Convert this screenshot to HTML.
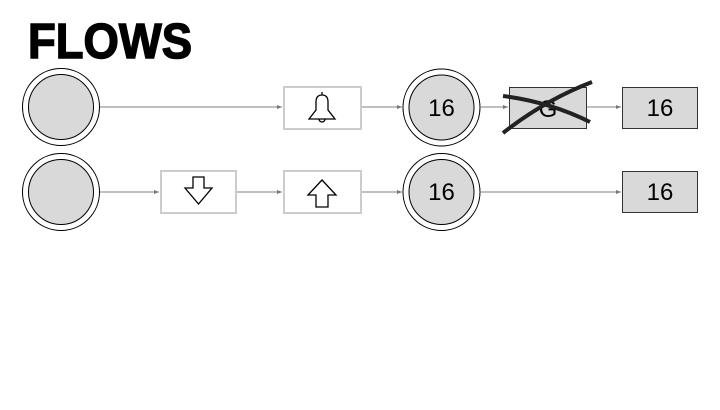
<!DOCTYPE html>
<html><head><style>body{margin:0;background:#fff;width:720px;height:405px;overflow:hidden}</style></head><body>
<svg width="720" height="405" viewBox="0 0 720 405" xmlns="http://www.w3.org/2000/svg">
<defs><marker id="a" markerWidth="6" markerHeight="6" refX="5" refY="3" orient="auto"><path d="M0,1 L5,3 L0,5z" fill="#777"/></marker></defs>
<text x="28" y="58" font-family="Liberation Sans, sans-serif" font-weight="bold" font-size="49" stroke="#000" stroke-width="1.5" textLength="164" lengthAdjust="spacingAndGlyphs">FLOWS</text>
<g stroke="#808080" stroke-width="1" fill="none">
<line x1="100" y1="107" x2="282" y2="107" marker-end="url(#a)"/>
<line x1="362" y1="107" x2="402" y2="107" marker-end="url(#a)"/>
<line x1="481" y1="107" x2="508" y2="107" marker-end="url(#a)"/>
<line x1="587" y1="107" x2="621" y2="107" marker-end="url(#a)"/>
<line x1="100" y1="192" x2="159" y2="192" marker-end="url(#a)"/>
<line x1="237" y1="192" x2="282" y2="192" marker-end="url(#a)"/>
<line x1="362" y1="192" x2="402" y2="192" marker-end="url(#a)"/>
<line x1="481" y1="192" x2="621" y2="192" marker-end="url(#a)"/>
</g>
<g stroke="#000" stroke-width="1">
<circle cx="61" cy="107" r="38.5" fill="#fff"/><circle cx="61" cy="107" r="32.5" fill="#d9d9d9"/>
<circle cx="61" cy="192" r="38.5" fill="#fff"/><circle cx="61" cy="192" r="32.5" fill="#d9d9d9"/>
<circle cx="441.5" cy="107.5" r="38.5" fill="#fff"/><circle cx="441.5" cy="107.5" r="32.5" fill="#d9d9d9"/>
<circle cx="441.5" cy="192" r="38.5" fill="#fff"/><circle cx="441.5" cy="192" r="32.5" fill="#d9d9d9"/>
</g>
<g fill="#fff" stroke="#ccc" stroke-width="2">
<rect x="284" y="87" width="77" height="42"/>
<rect x="161" y="171" width="75" height="42"/>
<rect x="284" y="171" width="77" height="42"/>
</g>
<g fill="#d9d9d9" stroke="#333" stroke-width="1">
<rect x="509.5" y="87.5" width="77" height="41"/>
<rect x="622.5" y="87.5" width="75" height="41"/>
<rect x="622.5" y="171.5" width="75" height="41"/>
</g>
<g font-family="Liberation Sans, sans-serif" font-size="24" text-anchor="middle" fill="#000">
<text x="441.5" y="116">16</text><text x="441.5" y="200">16</text>
<text x="660" y="116">16</text><text x="660" y="200">16</text>
<text x="548" y="117">G</text>
</g>
<path d="M503,96 Q550,102 590,122" stroke="#222" stroke-width="4" fill="none"/>
<path d="M503,133 Q545,100 592,82" stroke="#222" stroke-width="4" fill="none"/>
<g fill="none" stroke="#000" stroke-width="1.3">
<path d="M322,92 L322,95 M316,102 Q316,95 322,95 Q328,95 328,102 L328,110 L335,119 L309,119 L316,110 Z"/>
<path d="M319,119 A3,3 0 0 0 325,119"/>
<path d="M193,177 L204,177 L204,188 L212,188 L198.5,204 L185,188 L193,188 Z"/>
<path d="M316,207 L328,207 L328,195 L336,195 L322,180 L308,195 L316,195 Z"/>
</g>
</svg>
</body></html>
